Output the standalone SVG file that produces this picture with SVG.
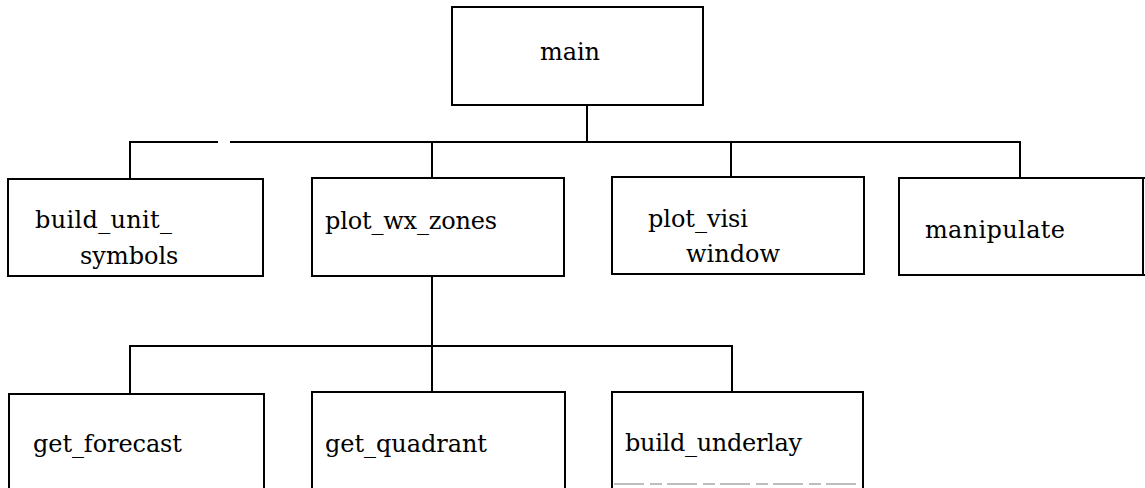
<svg xmlns="http://www.w3.org/2000/svg" width="1145" height="488" viewBox="0 0 1145 488">
<style>
  .box { fill: #ffffff; stroke: #000000; stroke-width: 2; }
  .lbl { font-family: "DejaVu Serif", "Liberation Serif", serif; font-size: 24px; fill: #000000; }
  .wire { fill: none; stroke: #000000; stroke-width: 2; }
  .faint { fill: none; stroke: #a8a8a8; stroke-width: 1.5; stroke-dasharray: 30 6 12 5; }
</style>
<rect width="1145" height="488" fill="#ffffff"/>
<g id="connectors">
  <path class="wire" d="M587,105 V142 M130,179 V142 H218 M230,142 H1020 V178 M432,142 V178 M731,142 V177"/>
  <path class="wire" d="M432,276 V392 M130,394 V346 H732 V392"/>
</g>
<g id="node-main">
  <rect class="box" x="452" y="7" width="251" height="98"/>
  <text class="lbl" x="540" y="60" textLength="60">main</text>
</g>
<g id="node-build_unit_symbols">
  <rect class="box" x="8" y="179" width="255" height="97"/>
  <text class="lbl" x="35" y="228" textLength="137">build_unit_</text>
  <text class="lbl" x="80" y="264">symbols</text>
</g>
<g id="node-plot_wx_zones">
  <rect class="box" x="312" y="178" width="252" height="98"/>
  <text class="lbl" x="325" y="229" textLength="172">plot_wx_zones</text>
</g>
<g id="node-plot_visi_window">
  <rect class="box" x="612" y="177" width="252" height="97"/>
  <text class="lbl" x="648" y="227" textLength="100">plot_visi</text>
  <text class="lbl" x="686" y="262">window</text>
</g>
<g id="node-manipulate">
  <path class="box" d="M1146,178 H899 V275 H1146"/>
  <line x1="1143" y1="178" x2="1143" y2="275" stroke="#000" stroke-width="2"/>
  <text class="lbl" x="925" y="238" textLength="140">manipulate</text>
</g>
<g id="node-get_forecast">
  <path class="box" d="M9,490 V394 H264 V490"/>
  <text class="lbl" x="33" y="452" textLength="149">get_forecast</text>
</g>
<g id="node-get_quadrant">
  <path class="box" d="M312,490 V392 H565 V490"/>
  <text class="lbl" x="325" y="452" textLength="162">get_quadrant</text>
</g>
<g id="node-build_underlay">
  <path class="box" d="M612,490 V392 H863 V490"/>
  <line class="faint" x1="614" y1="484" x2="861" y2="484"/>
  <text class="lbl" x="625" y="451" textLength="177">build_underlay</text>
</g>
</svg>
